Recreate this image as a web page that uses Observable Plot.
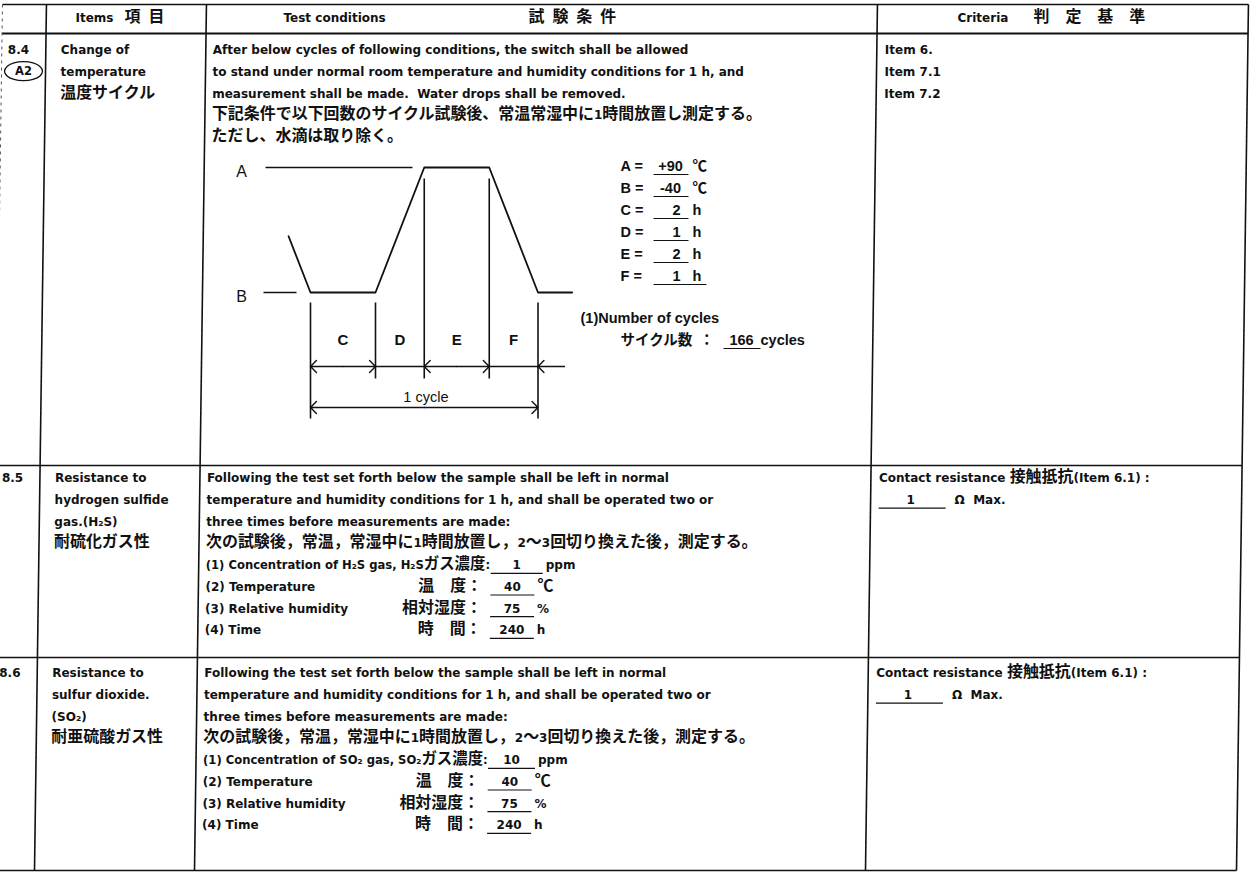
<!DOCTYPE html>
<html>
<head>
<meta charset="utf-8">
<script src="https://cdn.jsdelivr.net/npm/d3@7"></script>
<script src="https://cdn.jsdelivr.net/npm/@observablehq/plot@0.6"></script>
<style>
html,body{margin:0;padding:0;background:#fff;}
#page{position:relative;width:1250px;height:876px;overflow:hidden;background:#fff;}
#page svg{position:absolute;}
</style>
</head>
<body>
<div id="page"></div>
<script>
// ================= DATA =================
const headerEn = ["Items", "Test conditions", "Criteria"];
const headerJa = ["項\u2002目", "試\u2002験\u2002条\u2002件", "判\u3000定\u3000基\u3000準"];
const itemNumbers = ["8.4", "8.5", "8.6"];
const itemBadges = ["A2", null, null];
const itemNames = [
  ["Change of", "temperature", "温度サイクル"],
  ["Resistance to", "hydrogen sulfide", "gas.(H₂S)", "耐硫化ガス性"],
  ["Resistance to", "sulfur dioxide.", "(SO₂)", "耐亜硫酸ガス性"]
];
const conditionIntro = [
  ["After below cycles of following conditions, the switch shall be allowed",
   "to stand under normal room temperature and humidity conditions for 1 h, and",
   "measurement shall be made.  Water drops shall be removed.",
   "下記条件で以下回数のサイクル試験後、常温常湿中に1時間放置し測定する。",
   "ただし、水滴は取り除く。"],
  ["Following the test set forth below the sample shall be left in normal",
   "temperature and humidity conditions for 1 h, and shall be operated two or",
   "three times before measurements are made:",
   "次の試験後，常温，常湿中に1時間放置し，2～3回切り換えた後，測定する。"],
  ["Following the test set forth below the sample shall be left in normal",
   "temperature and humidity conditions for 1 h, and shall be operated two or",
   "three times before measurements are made:",
   "次の試験後，常温，常湿中に1時間放置し，2～3回切り換えた後，測定する。"]
];
const gasNames = [null, "H₂S", "SO₂"];
const gasConcentrationPpm = [null, 1, 10];
const testTemperatureC = [null, 40, 40];
const relativeHumidityPct = [null, 75, 75];
const testTimeH = [null, 240, 240];
const paramEn = ["(1) Concentration of %g gas,", "(2) Temperature", "(3) Relative humidity", "(4) Time"];
const paramJa = ["%gガス濃度:", "\u3000温\u3000度：", "相対湿度：", "\u3000時\u3000間："];
const paramUnits = ["ppm", "℃", "%", "h"];
const criteriaText = [
  ["Item 6.", "Item 7.1", "Item 7.2"],
  ["Contact resistance 接触抵抗(Item 6.1) :"],
  ["Contact resistance 接触抵抗(Item 6.1) :"]
];
const contactResistanceMaxOhm = [null, 1, 1];
const levelNames = ["A", "B"];
const levelTempsC = [90, -40];
const phaseNames = ["C", "D", "E", "F"];
const phaseHours = [2, 1, 2, 1];
const phaseDrawnSpan = [2, 1.5, 2, 1.5]; // schematic widths as drawn (not to scale)
const cycleCount = 166;

// ================= LAYOUT =================
const W = 1250, H = 876;
const BODY = "'DejaVu Sans', 'Noto Sans CJK JP', sans-serif";
const LEG = "'Liberation Sans', 'Noto Sans CJK JP', sans-serif";
const CJK_SCALE = "1.33em";
const tableTop = 4, headBottom = 33, tableBottom = 870;
const rowTops = [headBottom, 465, 657];
const firstLine = [50, 478, 673];
const LH = 21.7;
const colTop = [2, 46, 206, 877, 1248];
const drift = 12;
const colAt = (i, y) => colTop[i] - drift * y / tableBottom;

const body = [], bodyMid = [], bodySmall = [], legend = [], legendMid = [], underlines = [];

// header
const headY = 18;
body.push({x: 75, y: headY, t: headerEn[0]}, {x: 124, y: headY, t: headerJa[0]});
body.push({x: 283, y: headY, t: headerEn[1]}, {x: 528, y: headY, t: headerJa[1]});
body.push({x: 957, y: headY, t: headerEn[2]}, {x: 1033, y: headY, t: headerJa[2]});

itemNumbers.forEach((num, r) => {
  const y0 = firstLine[r];
  body.push({x: colAt(0, y0) + 6, y: y0, t: num});
  itemNames[r].forEach((s, i) => { const y = y0 + i * LH; body.push({x: colAt(1, y) + 15, y, t: s}); });
  conditionIntro[r].forEach((s, i) => { const y = y0 + i * LH; body.push({x: colAt(2, y) + 7, y, t: s}); });
  criteriaText[r].forEach((s, i) => { const y = y0 + i * LH; body.push({x: colAt(3, y) + 8, y, t: s}); });
  if (r > 0) {
    const vals = [gasConcentrationPpm[r], testTemperatureC[r], relativeHumidityPct[r], testTimeH[r]];
    paramEn.forEach((en, i) => {
      const y = y0 + (4 + i) * LH;
      const cx = colAt(2, y);
      const fx = cx + 292, fw = i === 0 ? (r === 1 ? 52 : 47) : 44;
      if (i === 0) {
        bodySmall.push({x: cx + 7, y, t: en.replace("%g", gasNames[r]) + " " + paramJa[i].replace("%g", gasNames[r])});
      } else {
        body.push({x: cx + 7, y, t: en});
        body.push({x: cx + 204, y, t: paramJa[i]});
      }
      underlines.push({x1: fx, x2: fx + fw, y: y + 8});
      bodyMid.push({x: fx + fw / 2, y, t: String(vals[i])});
      body.push({x: fx + fw + 3, y, t: paramUnits[i]});
    });
    const y = y0 + LH, cx = colAt(3, y) + 8;
    underlines.push({x1: cx, x2: cx + 67, y: y + 8});
    bodyMid.push({x: cx + 32, y, t: String(contactResistanceMaxOhm[r])});
    body.push({x: cx + 76, y, t: "Ω  Max."});
  }
});

// legend of the cycle
const legX = 620, legY0 = 166, legLH = 22;
const legLetters = [...levelNames, ...phaseNames];
const legVals = [...levelTempsC.map(v => (v > 0 ? "+" : "") + v), ...phaseHours.map(String)];
const legUnits = ["℃", "℃", "h", "h", "h", "h"];
legLetters.forEach((L, i) => {
  const y = legY0 + i * legLH;
  legend.push({x: legX, y, t: L + " ="});
  legendMid.push({x: legX + (i < 2 ? 50 : 56), y, t: legVals[i]});
  legend.push({x: legX + 72, y, t: legUnits[i]});
  underlines.push({x1: legX + 33, x2: legX + (i === 5 ? 86 : 68), y: y + 8});
});
legend.push({x: 580, y: 318, t: "(1)Number of cycles"});
legend.push({x: 620, y: 340, t: "サイクル数\u2002："});
legendMid.push({x: 741, y: 340, t: String(cycleCount)});
legend.push({x: 760, y: 340, t: "cycles"});
underlines.push({x1: 723, x2: 760, y: 348});

// table lines
const lines = [];
[tableTop, headBottom, rowTops[1], rowTops[2], tableBottom].forEach((y, k) => {
  lines.push({x1: colAt(0, y), x2: colAt(4, y), y1: y, y2: y, w: k === 1 ? 2.2 : 1.6});
});
colTop.forEach((x, i) => {
  if (i === 0) return;
  lines.push({x1: colAt(i, tableTop), x2: colAt(i, tableBottom), y1: tableTop, y2: tableBottom, w: 1.6});
});
const leftEdge = [{x1: colAt(0, tableTop), x2: colAt(0, tableBottom), y1: tableTop, y2: tableBottom}];

// badge (oval around A2)
const bc = {x: 23, y: firstLine[0] + LH - 1, rx: 19, ry: 9.5};
const badge = d3.range(12).map(k => {
  const a = k * Math.PI / 6;
  return {x: bc.x + bc.rx * Math.cos(a), y: bc.y + bc.ry * Math.sin(a)};
});

const textStyle = {fontFamily: BODY, fontSize: 12, fontWeight: "bold", fill: "#111"};
const legStyle = {fontFamily: LEG, fontSize: 14.5, fontWeight: "bold", fill: "#111"};

const main = Plot.plot({
  width: W, height: H, margin: 0,
  x: {domain: [0, W], range: [0, W], axis: null},
  y: {domain: [0, H], range: [0, H], axis: null},
  style: {background: "transparent", overflow: "visible"},
  marks: [
    Plot.link(lines, {x1: "x1", x2: "x2", y1: "y1", y2: "y2", stroke: "#111", strokeWidth: "w"}),
    Plot.link(leftEdge, {x1: "x1", x2: "x2", y1: "y1", y2: "y2", stroke: "#555", strokeWidth: 1, strokeDasharray: "3,4"}),
    Plot.link(underlines, {x1: "x1", x2: "x2", y1: "y", y2: "y", stroke: "#111", strokeWidth: 1.2}),
    Plot.line(badge, {x: "x", y: "y", curve: "catmull-rom-closed", stroke: "#111", strokeWidth: 1.3, fill: "none"}),
    Plot.text([itemBadges[0]], {x: bc.x, y: bc.y, text: d => d, ...textStyle, fontSize: 11.5}),
    Plot.text(body, {x: "x", y: "y", text: "t", textAnchor: "start", ...textStyle}),
    Plot.text(bodySmall, {x: "x", y: "y", text: "t", textAnchor: "start", ...textStyle, fontSize: 11.6}),
    Plot.text(bodyMid, {x: "x", y: "y", text: "t", textAnchor: "middle", ...textStyle}),
    Plot.text(legend, {x: "x", y: "y", text: "t", textAnchor: "start", ...legStyle}),
    Plot.text(legendMid, {x: "x", y: "y", text: "t", textAnchor: "middle", ...legStyle})
  ]
});

// ================= DIAGRAM (temperature vs schematic time) =================
const DG = {left: 228, top: 140, width: 362, height: 300};
const tOrigin = 310, unitPx = 32.5;   // pixel column of the start of phase C, px per schematic unit
const yApx = 167, yBpx = 292;         // pixel rows of levels A and B
const A = levelTempsC[0], B = levelTempsC[1];
const tempPx = (yBpx - yApx) / (A - B);
const Tof = py => A - (py - yApx) / tempPx;       // pixel row -> temperature units
const tof = px => (px - tOrigin) / unitPx;        // pixel column -> time units
const bounds = [0];
phaseDrawnSpan.forEach(s => bounds.push(bounds[bounds.length - 1] + s));
const preFrac = 0.45;
const profile = [
  {t: -preFrac * phaseDrawnSpan[3], T: B + preFrac * (A - B)},
  {t: bounds[0], T: B}, {t: bounds[1], T: B}, {t: bounds[2], T: A},
  {t: bounds[3], T: A}, {t: bounds[4], T: B}, {t: bounds[4] + 1.05, T: B}
];
const guides = [
  {t1: tof(265), t2: tof(412), T: A},
  {t1: tof(263), t2: tof(296), T: B}
];
const belowB = Tof(302), belowA = Tof(178), innerEnd = Tof(378), outerEnd = Tof(418);
const dims = bounds.map((t, i) => ({
  t,
  T1: (i === 0 || i === 4 || i === 1) ? belowB : belowA,
  T2: (i === 0 || i === 4) ? outerEnd : innerEnd
}));
const arrowT = Tof(366), cycleT = Tof(407), labelT = Tof(340), cycleTextT = Tof(397);
const mid = (a, b) => (a + b) / 2;
const arrows = [
  {x1: mid(bounds[0], bounds[1]), x2: bounds[0], T: arrowT},
  {x1: mid(bounds[0], bounds[1]), x2: bounds[1], T: arrowT},
  {x1: mid(bounds[2], bounds[3]), x2: bounds[2], T: arrowT},
  {x1: mid(bounds[2], bounds[3]), x2: bounds[3], T: arrowT},
  {x1: tof(564), x2: bounds[4], T: arrowT},
  {x1: mid(bounds[0], bounds[4]), x2: bounds[0], T: cycleT},
  {x1: mid(bounds[0], bounds[4]), x2: bounds[4], T: cycleT}
];
const plain = [
  {x1: bounds[1], x2: bounds[2], T: arrowT},
  {x1: bounds[3], x2: bounds[4], T: arrowT}
];
const phaseLabels = phaseNames.map((n, i) => ({t: mid(bounds[i], bounds[i + 1]), T: labelT, n}));
const levelLabels = levelNames.map((n, i) => ({t: tof(241), T: levelTempsC[i] - 4 / tempPx, n}));

const diagram = Plot.plot({
  width: DG.width, height: DG.height, margin: 0,
  x: {domain: [tof(DG.left), tof(DG.left + DG.width)], range: [0, DG.width], axis: null},
  y: {domain: [Tof(DG.top), Tof(DG.top + DG.height)], range: [0, DG.height], axis: null},
  style: {background: "transparent", overflow: "visible"},
  marks: [
    Plot.link(guides, {x1: "t1", x2: "t2", y1: "T", y2: "T", stroke: "#111", strokeWidth: 1.6}),
    Plot.line(profile, {x: "t", y: "T", stroke: "#111", strokeWidth: 1.8}),
    Plot.link(dims, {x1: "t", x2: "t", y1: "T1", y2: "T2", stroke: "#111", strokeWidth: 1.6}),
    Plot.link(plain, {x1: "x1", x2: "x2", y1: "T", y2: "T", stroke: "#111", strokeWidth: 1.4}),
    Plot.arrow(arrows, {x1: "x1", x2: "x2", y1: "T", y2: "T", stroke: "#111", strokeWidth: 1.4, headLength: 9, headAngle: 90, bend: 0}),
    Plot.text(phaseLabels, {x: "t", y: "T", text: "n", fontFamily: LEG, fontSize: 15, fontWeight: "bold", fill: "#111"}),
    Plot.text(levelLabels, {x: "t", y: "T", text: "n", fontFamily: LEG, fontSize: 16, fill: "#111"}),
    Plot.text(["1 cycle"], {x: mid(bounds[0], bounds[4]) + 0.05, y: cycleTextT, text: d => d, fontFamily: LEG, fontSize: 14.5, fill: "#111"})
  ]
});

// ================= ASSEMBLE =================
const page = document.getElementById("page");
main.style.left = "0px"; main.style.top = "0px";
diagram.style.left = DG.left + "px"; diagram.style.top = DG.top + "px";
page.appendChild(main);
page.appendChild(diagram);

// CJK runs get the Japanese face at full-width size
const CJK = /([\u2002\u2003\u2103\u3000-\u30ff\u3400-\u9fff\uff01-\uff60]+)/;
function styleRuns(svg) {
  svg.querySelectorAll("text").forEach(t => {
    const spans = t.querySelectorAll("tspan");
    const nodes = spans.length ? [...spans] : [t];
    nodes.forEach(n => {
      const s = n.textContent;
      if (!CJK.test(s)) return;
      const g = n.closest("g");
      const isLegend = ((g && g.getAttribute("font-family")) || "").includes("Liberation");
      n.textContent = "";
      s.split(CJK).forEach((part, i) => {
        if (!part) return;
        const ts = document.createElementNS("http://www.w3.org/2000/svg", "tspan");
        ts.textContent = part;
        if (i % 2 === 1) {
          ts.setAttribute("font-family", "'Noto Sans CJK JP'");
          ts.setAttribute("font-size", isLegend ? "1em" : CJK_SCALE);
        }
        n.appendChild(ts);
      });
    });
  });
}
styleRuns(main);
styleRuns(diagram);
</script>
</body>
</html>
